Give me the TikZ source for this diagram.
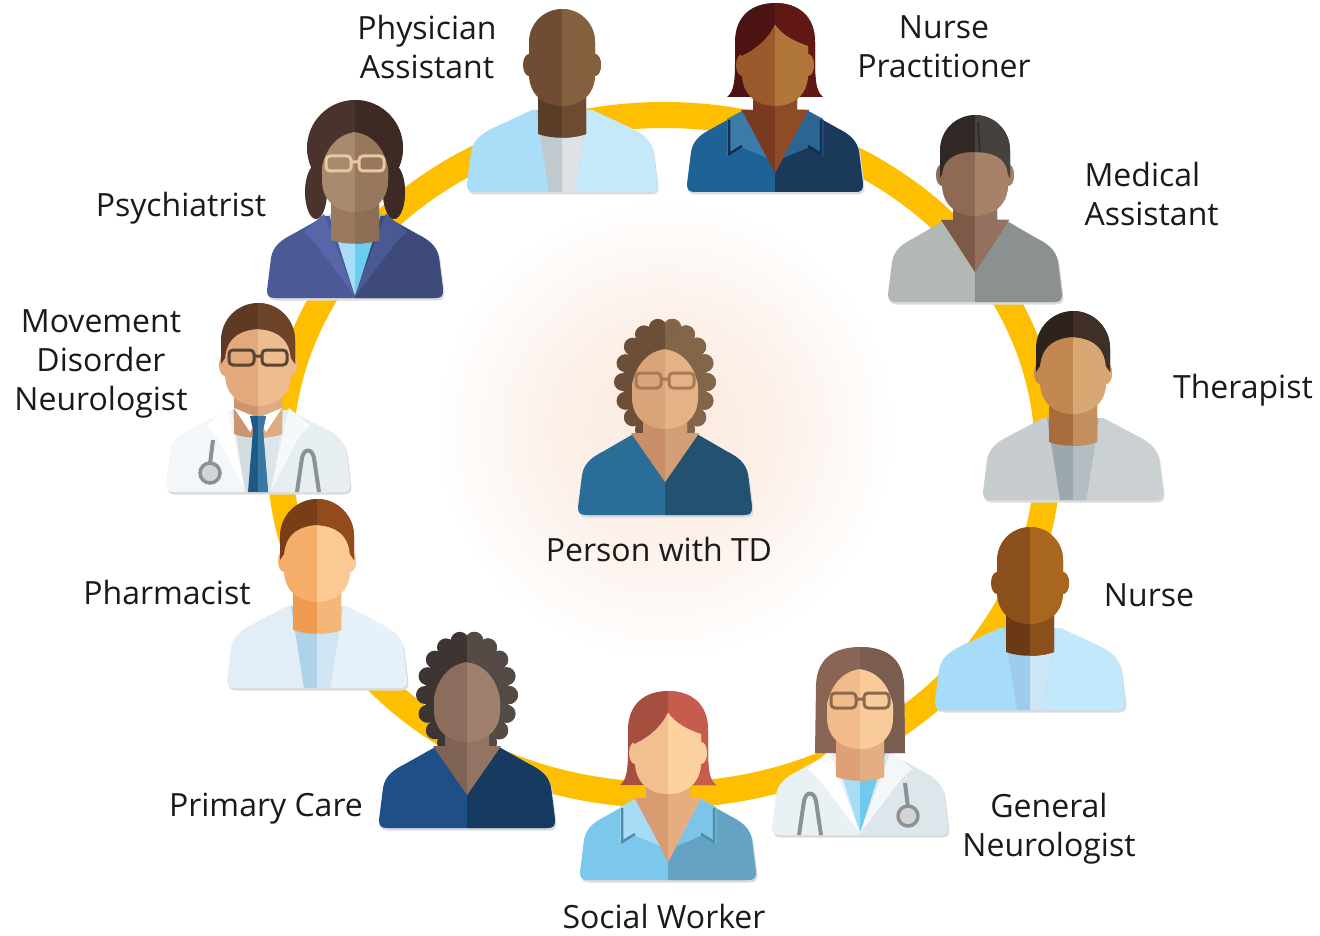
\documentclass[tikz,border=0pt]{standalone}
\usepackage{fontspec}
\setmainfont{Open Sans}
\usepackage{tikz}

\definecolor{ringc}{RGB}{253,191,0}
\definecolor{glowc}{RGB}{251,234,224}
\definecolor{txt}{RGB}{26,26,26}
\definecolor{steth}{HTML}{8B9194}
\pgfdeclareradialshading{glow}{\pgfpoint{0bp}{0bp}}{color(0bp)=(glowc); color(12bp)=(glowc!70!white); color(25bp)=(white); color(50bp)=(white)}

% half width of the shoulders
\newcommand\bw{88}

% fill a path, left half in #1 and right half in #2 (hex)
\newcommand\duo[3]{%
  \definecolor{duoA}{HTML}{#1}\definecolor{duoB}{HTML}{#2}%
  \fill[duoA] #3;
  \begin{scope}
    \clip (0,-6) rectangle (140,240);
    \fill[duoB] #3;
  \end{scope}}

% body parts, drawn around (0,0) = bottom centre, y upwards
\newcommand\bodyshape{({-\bw},8) .. controls ({-\bw},2) and ({-\bw+2},0) .. ({-\bw+8},0) -- ({\bw-8},0) .. controls ({\bw-2},0) and (\bw,2) .. (\bw,8) -- ({\bw-4},40) .. controls ({\bw-6},52) and ({\bw-14},58) .. ({\bw-26},64) -- (30,82) -- (-30,82) -- ({-\bw+26},64) .. controls ({-\bw+14},58) and ({-\bw+6},52) .. ({-\bw+4},40) -- cycle}
\newcommand\torso[2]{\fill[black!14,shift={(1.5,-2.5)}] \bodyshape; \duo{#1}{#2}{\bodyshape}}
\newcommand\vneck[3]{\duo{#1}{#2}{(-22,112) -- (-22,82) -- (-34,82) -- (0,#3) -- (34,82) -- (22,82) -- (22,112) -- cycle}}
\newcommand\neck[2]{\duo{#1}{#2}{(-24,112) -- (-24,58) .. controls (-10,53) and (10,53) .. (24,58) -- (24,112) -- cycle}}
\newcommand\tee[2]{\duo{#1}{#2}{(-26,82) -- (-13,0) -- (13,0) -- (26,82) -- cycle}}
\newcommand\shirtv[2]{\duo{#1}{#2}{(-26,84) -- (0,2) -- (26,84) -- cycle}}
\newcommand\lapels[3]{\duo{#1}{#2}{(-31,84) -- (-52,66) -- (-42,57) -- (-#3,2) -- cycle (31,84) -- (52,66) -- (42,57) -- (#3,2) -- cycle}}
\newcommand\polo[3]{%
  \duo{#1}{#2}{(-33,81) -- (-48,73) -- (-48,36) -- (-34,45) -- (-8,34) -- cycle (33,81) -- (48,73) -- (48,36) -- (34,45) -- (8,34) -- cycle}
  \definecolor{rim}{HTML}{#3}\draw[rim,line width=2.5pt] (-46,72) -- (-46,38) -- (-33,46) (46,72) -- (46,38) -- (33,46);}
\newcommand\tie[2]{\duo{#1}{#2}{(-8,76) -- (8,76) -- (5,62) -- (10,0) -- (-10,0) -- (-5,62) -- cycle}}
\newcommand\collar{\fill[white] (-24,84) -- (-8,60) -- (0,74) -- cycle (24,84) -- (8,60) -- (0,74) -- cycle;}
\newcommand\stetho{%
  \draw[steth,line width=4pt] (-45,52) -- (-48,28);
  \draw[steth,line width=4pt] (39,0) -- (44,34) .. controls (46,44) and (54,44) .. (56,34) -- (61,0);
  \filldraw[draw=steth,fill=black!17,line width=3.5pt] (-48,19) circle (10);}

% heads
\newcommand\face[2]{\duo{#1}{#2}{(-33,118) -- (-33,150) arc[start angle=180,end angle=0,radius=33] -- (33,118) .. controls (33,96) and (17,86) .. (0,86) .. controls (-17,86) and (-33,96) .. (-33,118) -- cycle}}
\newcommand\ears[2]{\duo{#1}{#2}{(-33,127) ellipse [x radius=6,y radius=11] (33,127) ellipse [x radius=6,y radius=11]}}
\newcommand\glasses[1]{\definecolor{rim}{HTML}{#1}\draw[rim,line width=3pt,rounded corners=4pt] (-29,127) rectangle (-4,142) (4,127) rectangle (29,142) (-4,136) -- (4,136);}

% hair
\newcommand\hairshort[2]{\duo{#1}{#2}{(-37,128) -- (-37,152) arc[start angle=180,end angle=0,radius=37] -- (37,128) -- (33,134) .. controls (31,156) and (16,162) .. (0,163) .. controls (-16,162) and (-31,156) .. (-33,134) -- cycle}}
\newcommand\hairbob[2]{\duo{#1}{#2}{(-48,95) .. controls (-41,100) and (-40,112) .. (-40,130) -- (-40,150) .. controls (-40,177) and (-22,189) .. (0,189) .. controls (22,189) and (40,177) .. (40,150) -- (40,130) .. controls (40,112) and (41,100) .. (48,95) -- cycle}}
\newcommand\fringe[2]{\duo{#1}{#2}{(-34,136) .. controls (-20,142) and (-6,154) .. (0,168) .. controls (8,156) and (22,150) .. (34,146) -- (35,150) arc[start angle=0,end angle=180,radius=35] -- cycle}}
\newcommand\hairlong[2]{\duo{#1}{#2}{(-45,82) -- (-44,150) .. controls (-43,178) and (-24,188) .. (0,188) .. controls (24,188) and (43,178) .. (44,150) -- (45,82) -- cycle}}
\newcommand\hairtop[2]{\duo{#1}{#2}{(-34,126) .. controls (-30,152) and (-16,164) .. (0,166) .. controls (16,164) and (30,152) .. (34,126) -- (35,150) arc[start angle=0,end angle=180,radius=35] -- cycle}}
\newcommand\hairbun[2]{\duo{#1}{#2}{(-35,124) -- (-35,152) arc[start angle=180,end angle=0,radius=35] -- (35,124) -- (33,128) .. controls (31,146) and (16,150) .. (0,150) .. controls (-16,150) and (-31,146) .. (-33,128) -- cycle}
  \draw[duoA,line width=1.5pt] (5,150) -- (3,180);}
\newcommand\haircurly[2]{\duo{#1}{#2}{(0,133) ellipse [x radius=42,y radius=55] \foreach \a in {-60,-40,...,240} {({42*cos(\a)},{133+55*sin(\a)}) circle (9)}}}
\newcommand\hairafro[2]{\duo{#1}{#2}{(0,150) circle (48) (-39,106) ellipse [x radius=11,y radius=27] (39,106) ellipse [x radius=11,y radius=27]}}

\begin{document}
\begin{tikzpicture}[x=1pt, y=-1pt]
        \tikzstyle{lbl} = [text=txt, align=center, font=\fontsize{32}{39}\selectfont]
        \tikzstyle{staff} = [yscale=-1]

        \useasboundingbox (0,0) rectangle (1320,936);

        % Soft glow and the ring of care
        \shade[shading=glow] (665,430) circle (230pt);
        \draw[ringc, line width=26pt] (664,455) ellipse [x radius=384pt, y radius=340pt];

        % Physician assistant
        \begin{scope}[shift={(562,192)}, staff]
          \renewcommand\bw{95}
          \torso{AADDF7}{C6E9FA}
          \tee{BFC9CE}{DCE2E5}
          \neck{5A3D27}{6C4B31}
          \ears{6F4C33}{84603F}
          \face{6F4C33}{84603F}
        \end{scope}

        % Nurse practitioner
        \begin{scope}[shift={(775,192)}, staff]
          \torso{1F6396}{1B3A5B}
          \hairbob{4B1412}{621815}
          \vneck{7A3A1F}{8E4C26}{19}
          \polo{3B7BA8}{2C6592}{12304D}
          \ears{9A5A2B}{B1763A}
          \face{9A5A2B}{B1763A}
          \fringe{4B1412}{621815}
        \end{scope}

        % Medical assistant
        \begin{scope}[shift={(975,302)}, staff]
          \renewcommand\bw{87}
          \torso{B3B8B5}{8A918E}
          \vneck{7D5A47}{95725F}{30}
          \ears{8E6A55}{A88169}
          \face{8E6A55}{A88169}
          \hairbun{2F2825}{47413D}
        \end{scope}

        % Therapist
        \begin{scope}[shift={(1073,500)}, staff]
          \renewcommand\bw{90}
          \torso{C7CCCF}{CBD0D3}
          \tee{9CA8AE}{B4BDC1}
          \neck{A86C3D}{C38F5E}
          \ears{C2884F}{D8A874}
          \face{C2884F}{D8A874}
          \hairshort{2E221D}{3F2F26}
        \end{scope}

        % Nurse
        \begin{scope}[shift={(1030,710)}, staff]
          \renewcommand\bw{95}
          \torso{A6DCF7}{C2E8FB}
          \tee{9ECBEE}{CCE5F7}
          \neck{6B3A14}{8A4F1A}
          \ears{8B4F1B}{A8661F}
          \face{8B4F1B}{A8661F}
        \end{scope}

        % General neurologist
        \begin{scope}[shift={(860,835)}, staff]
          \torso{EAF1F5}{DCE6EB}
          \shirtv{A9DCF5}{6ECBEF}
          \lapels{FFFFFF}{F4F7F9}{0}
          \hairlong{8A6555}{7B5D50}
          \neck{DDA077}{E3AE84}
          \face{F2BC8A}{F9CB9B}
          \hairtop{8A6555}{7B5D50}
          \glasses{8A6A4E}
          \begin{scope}[xscale=-1]
            \stetho
          \end{scope}
        \end{scope}

        % Social worker
        \begin{scope}[shift={(668,880)}, staff]
          \torso{7CC8EC}{65A3C4}
          \hairbob{A64F40}{C75C4E}
          \vneck{D99B70}{E7AD80}{18}
          \polo{A8DBF4}{7CC4E8}{4F8CAA}
          \ears{F2C08E}{FBD29F}
          \face{F2C08E}{FBD29F}
          \fringe{A64F40}{C75C4E}
        \end{scope}

        % Primary care
        \begin{scope}[shift={(467,828)}, staff]
          \torso{1F4F87}{163A60}
          \haircurly{3D3532}{544A46}
          \vneck{7E6254}{917464}{33}
          \face{8C6D5D}{9F7F6E}
          \hairtop{3D3532}{544A46}
        \end{scope}

        % Pharmacist
        \begin{scope}[shift={(317,688)}, staff]
          \renewcommand\bw{90}
          \torso{E1EEF8}{E6F1FA}
          \tee{ADD3EA}{D0E6F4}
          \neck{EE9B50}{F5B67A}
          \ears{F4AE6A}{FBCA95}
          \face{F4AE6A}{FBCA95}
          \hairshort{7A3E17}{934A1D}
        \end{scope}

        % Movement disorder neurologist
        \begin{scope}[shift={(258,492)}, staff]
          \renewcommand\bw{92}
          \torso{F3F7F9}{E6EEF2}
          \tee{D2DDE2}{DCE5E9}
          \lapels{FFFFFF}{F6F9FA}{13}
          \neck{CC9470}{DFAB80}
          \collar
          \tie{1F5A85}{3A78A5}
          \ears{E2A97C}{EDBD90}
          \face{E2A97C}{EDBD90}
          \hairshort{5E3A24}{6E4429}
          \glasses{5A4535}
          \stetho
        \end{scope}

        % Psychiatrist
        \begin{scope}[shift={(355,298)}, staff]
          \torso{4B5A96}{3E4A79}
          \shirtv{A7DDF6}{68CDEF}
          \lapels{5766A9}{4B5992}{0}
          \hairafro{4A332D}{3E2A25}
          \neck{9A7A5E}{8C6E55}
          \face{A88A6E}{97785E}
          \hairtop{4A332D}{3E2A25}
          \glasses{E8C8A2}
        \end{scope}

        % Person in the middle
        \begin{scope}[shift={(665,515)}, staff]
          \renewcommand\bw{87}
          \torso{2A6E98}{22526F}
          \haircurly{6B4F38}{836649}
          \vneck{C88F68}{D29E76}{33}
          \face{D9A47A}{E3B286}
          \hairtop{6B4F38}{836649}
          \glasses{A77A58}
        \end{scope}

        % Labels
        \node[lbl] (pa) at (427,47) {Physician\\Assistant};
        \node[lbl] (np) at (944,47) {Nurse\\Practitioner};
        \node[lbl, align=left, anchor=west] (ma) at (1081,194) {Medical\\Assistant};
        \node[lbl] (psy) at (181,208) {Psychiatrist};
        \node[lbl] (mdn) at (101,364) {Movement\\Disorder\\Neurologist};
        \node[lbl] (ther) at (1243,390) {Therapist};
        \node[lbl] (ph) at (167,592) {Pharmacist};
        \node[lbl] (ptd) at (659,549) {Person with TD};
        \node[lbl] (nu) at (1149,595) {Nurse};
        \node[lbl] (pc) at (266,809) {Primary Care};
        \node[lbl] (gn) at (1049,829) {General\\Neurologist};
        \node[lbl, inner sep=1pt] (sw) at (664,916) {Social Worker};
\end{tikzpicture}
\end{document}
